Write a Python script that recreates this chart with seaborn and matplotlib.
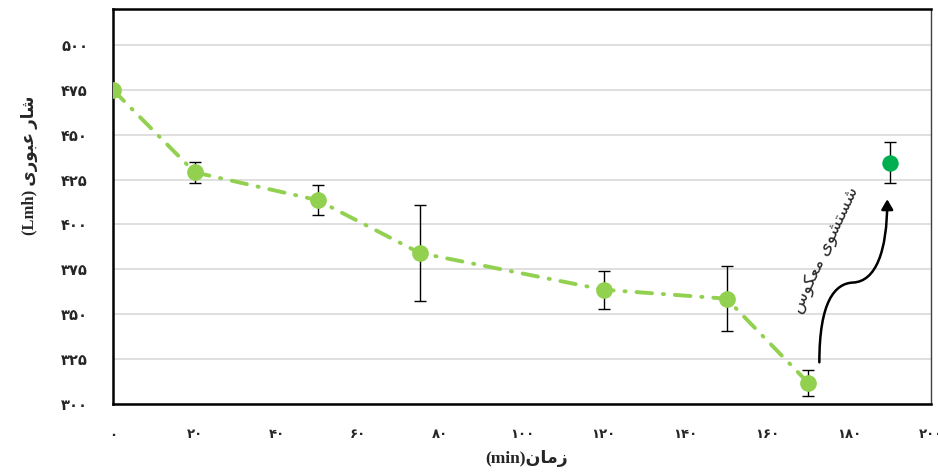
import matplotlib
matplotlib.use("Agg")
import matplotlib.pyplot as plt
import seaborn as sns
import pandas as pd
from matplotlib.path import Path
from matplotlib.patches import FancyArrowPatch

# ---- data ----
time_min = [0, 20, 50, 75, 120, 150, 170]
flux_lmh = [475, 429, 413.5, 384, 363.5, 358.5, 311.5]
flux_err = [0, 6, 8.5, 27, 10.7, 18, 7.4]

recovered_time = [190]
recovered_flux = [434.5]
recovered_err = [11.5]

x_ticks = [0, 20, 40, 60, 80, 100, 120, 140, 160, 180, 200]
y_ticks = [300, 325, 350, 375, 400, 425, 450, 475, 500]

# Persian labels, pre-shaped in visual (left-to-right) order
xlabel_text = "(min)\uFEE5\uFE8E\uFEE3\uFEAF"                       # زمان(min)
ylabel_text = "(Lmh) \uFBFC\uFEAD\uFEEE\uFE92\uFECB \uFEAD\uFE8E\uFEB7"  # شار عبوری (Lmh)
note_text = "\uFEB1\uFEEE\uFB91\uFECC\uFEE3 \uFBFC\uFEEE\uFEB8\uFE98\uFEB4\uFEB7"  # شستشوی معکوس

PERSIAN = str.maketrans("0123456789", "\u06F0\u06F1\u06F2\u06F3\u06F4\u06F5\u06F6\u06F7\u06F8\u06F9")


def fa(n):
    return str(n).translate(PERSIAN)


sns.set_theme(style="white")
plt.rcParams["font.family"] = ["Liberation Serif", "DejaVu Sans"]
SERIF_MIX = ["Liberation Serif", "DejaVu Sans"]

fig = plt.figure(figsize=(9.38, 4.72), dpi=100)
ax = fig.add_axes([113 / 938, 1 - 403.5 / 472, (931 - 113) / 938, (403.5 - 9.3) / 472])

df = pd.DataFrame({"time": time_min, "flux": flux_lmh})

# grid
for yv in y_ticks:
    ax.axhline(yv, color="#D9D9D9", lw=1.2, zorder=0)

# error bars
ax.errorbar(time_min, flux_lmh, yerr=flux_err, fmt="none", ecolor="black",
            elinewidth=1.0, capsize=4, capthick=1.0, zorder=2)
ax.errorbar(recovered_time, recovered_flux, yerr=recovered_err, fmt="none",
            ecolor="black", elinewidth=1.0, capsize=4, capthick=1.0, zorder=2)

# line + markers
sns.lineplot(data=df, x="time", y="flux", ax=ax, color="#92D050", lw=2.8,
             linestyle=(0, (4.0, 2.8, 0.3, 2.8)), zorder=3, legend=False)
ax.lines[-1].set_dash_capstyle("round")
sns.scatterplot(data=df, x="time", y="flux", ax=ax, color="#92D050", s=145,
                edgecolor="#92D050", linewidth=0, zorder=4, legend=False)
sns.scatterplot(x=recovered_time, y=recovered_flux, ax=ax, color="#00B050", s=140,
                edgecolor="#00B050", linewidth=0, zorder=4, legend=False)

ax.set_xlim(0, 200)
ax.set_ylim(300, 520)
ax.set_xticks(x_ticks)
ax.set_yticks(y_ticks)
ax.set_xticklabels([fa(v) for v in x_ticks], fontweight="bold", fontsize=9.5,
                   family=["DejaVu Sans"])
ax.set_yticklabels([fa(v) for v in y_ticks], fontweight="bold", fontsize=10.5,
                   family=["DejaVu Sans"])
ax.tick_params(axis="x", length=0, pad=18)
ax.tick_params(axis="y", length=0, pad=18)

ax.set_xlabel(xlabel_text, fontweight="bold", fontsize=12.5, family=SERIF_MIX)
ax.xaxis.set_label_coords(0.506, -0.118)
ax.set_ylabel(ylabel_text, fontweight="bold", fontsize=12, family=SERIF_MIX)
ax.yaxis.set_label_coords(-0.092, 0.605)

for side in ["left", "bottom", "top"]:
    ax.spines[side].set_visible(True)
    ax.spines[side].set_color("black")
    ax.spines[side].set_linewidth(1.8)
ax.spines["right"].set_visible(True)
ax.spines["right"].set_color("#404040")
ax.spines["right"].set_linewidth(1.0)

# curved arrow (backwash annotation)
verts = [(172.7, 323), (172.7, 357), (176.5, 367), (180.9, 367.5),
         (186.5, 368), (189.3, 385), (189.3, 414)]
codes = [Path.MOVETO, Path.CURVE4, Path.CURVE4, Path.CURVE4,
         Path.CURVE4, Path.CURVE4, Path.CURVE4]
arrow = FancyArrowPatch(path=Path(verts, codes), arrowstyle="-|>,head_length=6,head_width=3.5",
                        color="black", lw=1.8, zorder=5)
ax.add_patch(arrow)

ax.text(174.3, 385.4, note_text, rotation=65, fontsize=12.5, ha="center", va="center",
        rotation_mode="anchor", zorder=5, family=["DejaVu Sans"])

fig.savefig("out.png", dpi=100)
